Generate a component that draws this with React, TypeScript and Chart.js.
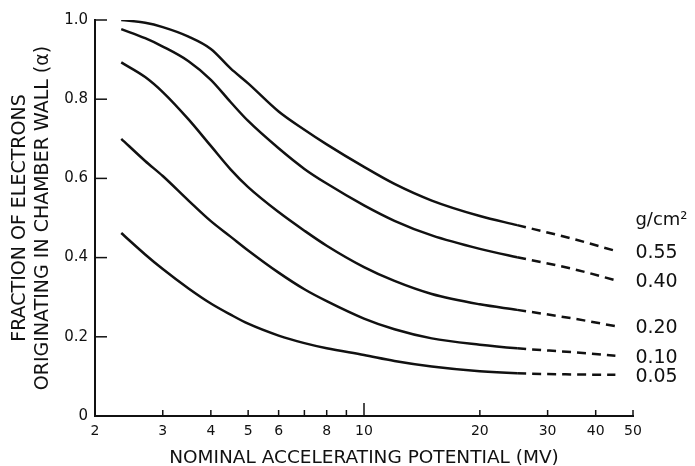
import React, { useEffect, useRef } from "react";
import { Chart, registerables } from "chart.js";

Chart.register(...registerables);

// Nominal accelerating potential (MV)
const energies = [2.34, 2.7, 3, 3.5, 4, 4.5, 5, 6, 7, 8, 10, 12, 15, 20, 25, 35, 45];

// Wall thickness labels (g/cm²)
const thicknesses = ["0.55", "0.40", "0.20", "0.10", "0.05"];

// Fraction of electrons originating in chamber wall
const frac055 = [1.0, 0.993, 0.982, 0.958, 0.927, 0.878, 0.84, 0.769, 0.723, 0.686, 0.629, 0.586, 0.544, 0.505, 0.482, 0.447, 0.417];
const frac040 = [0.977, 0.954, 0.933, 0.896, 0.849, 0.793, 0.745, 0.676, 0.624, 0.587, 0.532, 0.493, 0.456, 0.422, 0.401, 0.371, 0.343];
const frac020 = [0.893, 0.856, 0.818, 0.749, 0.682, 0.623, 0.578, 0.515, 0.468, 0.43, 0.376, 0.341, 0.308, 0.282, 0.268, 0.246, 0.227];
const frac010 = [0.7, 0.644, 0.606, 0.544, 0.492, 0.453, 0.418, 0.362, 0.32, 0.29, 0.246, 0.219, 0.196, 0.18, 0.171, 0.161, 0.152];
const frac005 = [0.462, 0.408, 0.371, 0.322, 0.284, 0.256, 0.233, 0.203, 0.184, 0.171, 0.154, 0.139, 0.125, 0.113, 0.108, 0.105, 0.104];

const seriesValues = [frac055, frac040, frac020, frac010, frac005];

// Beyond this energy the curves are extrapolated (dashed)
const dashStart = 25;

const xTickValues = [2, 3, 4, 5, 6, 7, 8, 9, 10, 20, 30, 40, 50];
const xTickLabels = ["2", "3", "4", "5", "6", "", "8", "", "10", "20", "30", "40", "50"];
const yTickValues = [0, 0.2, 0.4, 0.6, 0.8, 1.0];
const yTickLabels = ["0", "0.2", "0.4", "0.6", "0.8", "1.0"];

const unitLabel = "g/cm²";
const xTitle = "NOMINAL ACCELERATING POTENTIAL (MV)";
const yTitle = ["FRACTION OF ELECTRONS", "ORIGINATING IN CHAMBER WALL (α)"];

const INK = "#111";
const FONT = "'DejaVu Sans', sans-serif";

const innerTicksAndLabels = {
  id: "innerTicksAndLabels",
  afterDraw(chart: any) {
    const { ctx, scales } = chart;
    const x = scales.x;
    const y = scales.y;
    ctx.save();
    ctx.strokeStyle = INK;
    ctx.lineWidth = 1.5;
    xTickValues.forEach((v) => {
      const px = x.getPixelForValue(v);
      const len = v === 10 ? 13 : 6;
      ctx.beginPath();
      ctx.moveTo(px, y.bottom);
      ctx.lineTo(px, y.bottom - len);
      ctx.stroke();
    });
    yTickValues.forEach((v) => {
      if (v === 0) return;
      const py = y.getPixelForValue(v);
      ctx.beginPath();
      ctx.moveTo(x.left, py);
      ctx.lineTo(x.left + 12, py);
      ctx.stroke();
    });

    ctx.fillStyle = INK;
    ctx.textAlign = "left";
    ctx.textBaseline = "middle";
    ctx.font = `19px ${FONT}`;
    let firstY = 0;
    let firstX = 0;
    chart.data.datasets.forEach((_ds: any, i: number) => {
      const meta = chart.getDatasetMeta(i);
      const last = meta.data[meta.data.length - 1];
      if (i === 0) {
        firstY = last.y;
        firstX = last.x;
      }
      ctx.fillText(thicknesses[i], last.x + 20, last.y + 2);
    });
    ctx.font = `18px ${FONT}`;
    ctx.fillText(unitLabel, firstX + 20, firstY - 31);
    ctx.restore();
  },
};

export default function App() {
  const canvasRef = useRef<HTMLCanvasElement | null>(null);

  useEffect(() => {
    if (!canvasRef.current) return;
    const datasets = seriesValues.map((vals, i) => ({
      label: thicknesses[i],
      data: energies.map((e, j) => ({ x: e, y: vals[j] })),
      borderColor: INK,
      borderWidth: 2.5,
      pointRadius: 0,
      fill: false,
      cubicInterpolationMode: "monotone" as const,
      segment: {
        borderDash: (ctx: any) => (ctx.p0.parsed.x >= dashStart - 0.01 ? [9, 6] : undefined),
      },
    }));

    const chart = new Chart(canvasRef.current, {
      type: "line",
      data: { datasets },
      plugins: [innerTicksAndLabels],
      options: {
        animation: false,
        responsive: true,
        maintainAspectRatio: false,
        layout: { padding: { top: 20, right: 62, left: 0, bottom: 0 } },
        plugins: {
          legend: { display: false },
          tooltip: { enabled: false },
        },
        scales: {
          x: {
            type: "logarithmic",
            min: 2,
            max: 50,
            afterBuildTicks: (scale: any) => {
              scale.ticks = xTickValues.map((v) => ({ value: v }));
            },
            afterFit: (scale: any) => {
              scale.height = 50;
            },
            grid: { display: true, drawOnChartArea: false, drawTicks: false },
            border: { display: true, color: INK, width: 2 },
            ticks: {
              autoSkip: false,
              maxRotation: 0,
              padding: 7,
              color: INK,
              font: { family: FONT, size: 14 },
              callback: (value: any) => {
                const idx = xTickValues.indexOf(Number(value));
                return idx >= 0 ? xTickLabels[idx] : "";
              },
            },
            title: {
              display: true,
              text: xTitle,
              color: INK,
              font: { family: FONT, size: 18.5, lineHeight: 1.0 },
              padding: { top: 0, bottom: -1 },
            },
          },
          y: {
            type: "linear",
            min: 0,
            max: 1,
            afterBuildTicks: (scale: any) => {
              scale.ticks = yTickValues.map((v) => ({ value: v }));
            },
            afterFit: (scale: any) => {
              scale.width = 95;
            },
            grid: { display: true, drawOnChartArea: false, drawTicks: false },
            border: { display: true, color: INK, width: 2 },
            ticks: {
              padding: 7,
              color: INK,
              font: { family: FONT, size: 15 },
              callback: (value: any) => {
                const idx = yTickValues.findIndex((v) => Math.abs(v - Number(value)) < 1e-9);
                return idx >= 0 ? yTickLabels[idx] : "";
              },
            },
            title: {
              display: true,
              text: yTitle,
              color: INK,
              font: { family: FONT, size: 19, lineHeight: 1.21 },
              padding: { top: 9, bottom: 0 },
            },
          },
        },
      },
    } as any);

    return () => chart.destroy();
  }, []);

  return (
    <div style={{ position: "absolute", left: 0, top: 0, width: 695, height: 466, background: "#fff" }}>
      <canvas ref={canvasRef} />
    </div>
  );
}
